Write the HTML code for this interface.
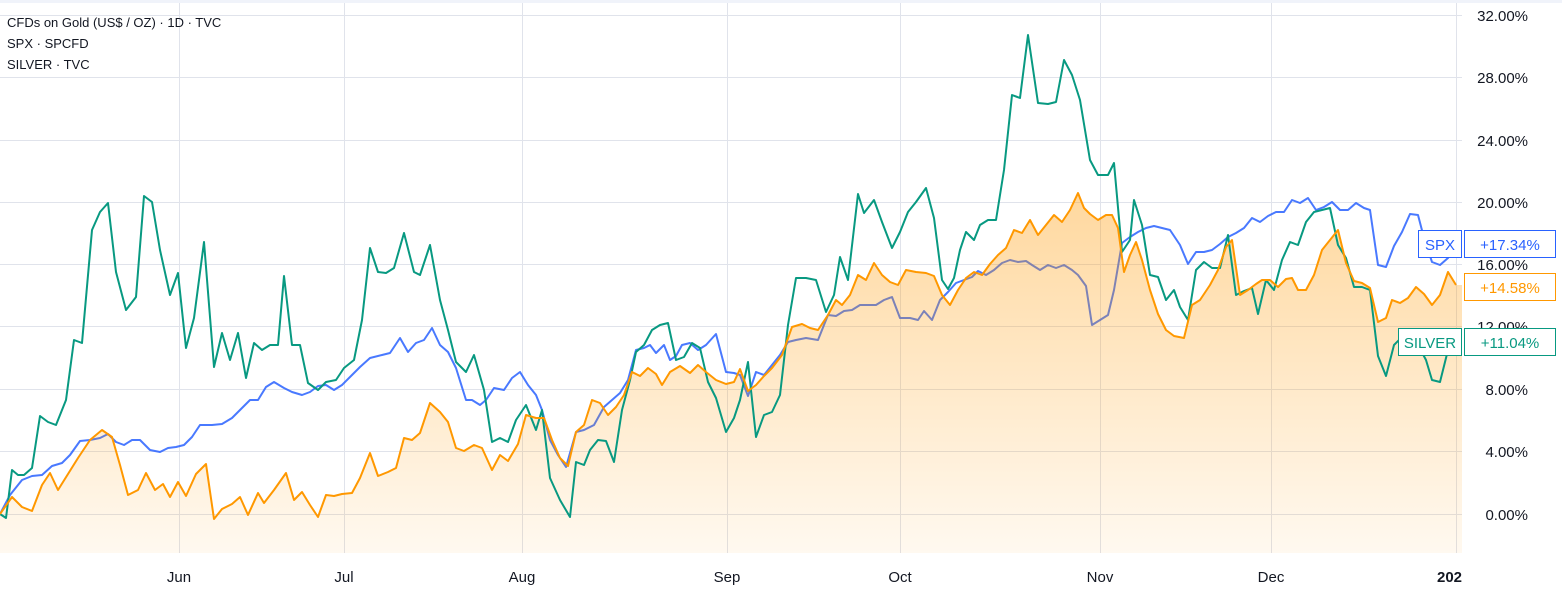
<!DOCTYPE html>
<html><head><meta charset="utf-8"><style>
html,body{margin:0;padding:0;background:#fff;}
svg{display:block;font-family:"Liberation Sans",sans-serif;}
</style></head><body>
<svg width="1562" height="596" viewBox="0 0 1562 596">
<defs>
<linearGradient id="g" x1="0" y1="0" x2="0" y2="1">
<stop offset="0" stop-color="#ff9800" stop-opacity="0.38"/>
<stop offset="1" stop-color="#ff9800" stop-opacity="0.06"/>
</linearGradient>
<clipPath id="c"><rect x="0" y="3" width="1462" height="550"/></clipPath>
</defs>
<rect x="0" y="0" width="1562" height="3" fill="#f0f3fa"/>
<g stroke="#e0e3eb" stroke-width="1">
<line x1="0" x2="1462" y1="15.5" y2="15.5"/><line x1="0" x2="1462" y1="77.5" y2="77.5"/>
<line x1="0" x2="1462" y1="140.5" y2="140.5"/><line x1="0" x2="1462" y1="202.5" y2="202.5"/>
<line x1="0" x2="1462" y1="264.5" y2="264.5"/><line x1="0" x2="1462" y1="326.5" y2="326.5"/>
<line x1="0" x2="1462" y1="389.5" y2="389.5"/><line x1="0" x2="1462" y1="451.5" y2="451.5"/>
<line x1="0" x2="1462" y1="514.5" y2="514.5"/>
<line x1="179.5" x2="179.5" y1="3" y2="553"/><line x1="344.5" x2="344.5" y1="3" y2="553"/>
<line x1="522.5" x2="522.5" y1="3" y2="553"/><line x1="727.5" x2="727.5" y1="3" y2="553"/>
<line x1="900.5" x2="900.5" y1="3" y2="553"/><line x1="1100.5" x2="1100.5" y1="3" y2="553"/>
<line x1="1271.5" x2="1271.5" y1="3" y2="553"/><line x1="1456.5" x2="1456.5" y1="3" y2="553"/>
</g>
<g clip-path="url(#c)" fill="none" stroke-width="2" stroke-linejoin="round">
<polyline stroke="#2962ff" stroke-opacity="0.85" points="0,514 10,495 22,480 32,476 42,475 52,466 62,463 70,455 80,441 90,440 100,438 108,434 116,442 124,445 132,440 140,440 150,450 160,452 168,448 176,447 184,445 192,437 200,425 212,425 222,424 232,418 240,410 250,400 258,400 266,387 274,382 284,388 292,392 302,395 310,392 318,386 326,385 334,390 342,385 352,375 360,367 370,358 382,355 390,353 400,338 408,352 416,343 424,340 432,328 440,345 448,352 456,368 466,400 472,400 480,405 486,400 494,388 504,390 512,378 520,372 528,385 536,395 542,410 550,440 558,455 566,467 576,432 584,430 594,425 604,407 612,400 620,393 628,380 636,350 644,348 650,345 656,353 664,345 670,360 676,356 682,345 690,343 698,350 706,345 716,334 726,372 734,373 740,375 748,396 756,372 764,375 772,365 780,355 788,342 796,340 806,338 818,340 828,315 836,316 844,311 852,310 860,305 868,305 876,305 884,300 892,297 900,318 910,318 918,320 924,311 932,320 940,300 948,292 956,283 964,280 972,277 978,271 986,275 994,270 1002,263 1010,260 1018,262 1026,261 1032,265 1040,270 1048,265 1056,268 1064,265 1072,270 1078,275 1086,286 1092,325 1100,320 1108,315 1114,290 1122,243 1130,237 1138,232 1146,228 1154,226 1162,228 1170,230 1180,245 1188,264 1196,252 1204,252 1212,250 1220,244 1228,237 1236,233 1244,228 1252,218 1260,222 1268,216 1276,212 1284,212 1292,200 1300,203 1308,198 1316,210 1324,207 1332,202 1340,210 1348,210 1356,203 1364,208 1370,210 1378,265 1386,267 1394,246 1402,232 1410,214 1418,215 1424,238 1432,262 1440,265 1448,258 1456,244"/>
<polygon stroke="none" fill="url(#g)" points="0,553 0,514 12,497 22,507 32,511 42,485 50,473 58,490 68,474 78,458 90,440 102,430 112,437 120,465 128,495 138,490 146,473 155,490 163,484 170,497 178,482 186,496 196,474 206,464 214,519 222,509 232,504 240,497 248,515 258,493 264,503 274,490 286,473 294,500 302,492 310,505 318,517 326,495 334,496 342,494 352,493 360,478 370,453 378,476 388,472 396,468 404,438 412,440 420,433 430,403 440,412 448,422 456,448 464,451 474,445 482,448 492,470 500,455 508,461 518,444 526,415 536,418 544,418 552,440 560,458 568,466 576,432 584,425 592,400 600,403 608,415 616,407 624,395 632,372 640,376 648,368 656,374 662,385 670,372 680,366 690,373 698,365 706,372 716,380 726,384 734,382 740,369 748,391 756,385 764,376 772,368 782,355 792,327 802,324 810,328 818,330 828,315 836,300 842,305 850,295 858,275 866,280 874,263 882,275 890,282 898,285 906,270 916,272 926,273 934,276 942,295 950,305 958,290 966,278 974,272 982,275 990,264 998,255 1006,248 1014,230 1022,233 1030,220 1038,235 1046,225 1054,215 1062,222 1070,210 1078,193 1084,208 1090,214 1098,220 1106,215 1112,215 1118,228 1124,272 1130,255 1136,242 1142,260 1150,290 1158,314 1166,330 1174,336 1184,338 1192,305 1200,300 1210,285 1218,270 1226,247 1232,240 1240,295 1248,290 1256,284 1262,280 1270,280 1278,287 1286,279 1292,278 1298,290 1306,290 1314,275 1322,250 1330,240 1338,230 1346,263 1354,281 1362,283 1370,288 1378,322 1386,318 1392,300 1400,303 1408,298 1416,287 1424,294 1432,305 1440,295 1448,272 1456,285 1462,285 1462,553"/>
<polyline stroke="#089981" points="0,514 6,518 12,470 18,475 24,475 32,468 40,416 48,422 56,425 66,400 74,340 82,343 92,230 100,212 108,203 116,272 126,310 136,297 144,196 152,202 160,250 170,295 178,273 186,348 194,318 204,242 214,367 222,333 230,360 238,333 246,378 254,343 262,350 270,345 278,345 284,276 292,345 300,345 308,383 318,390 326,382 336,380 344,368 354,360 362,320 370,248 378,272 386,273 394,268 404,233 414,272 420,275 430,245 440,300 448,330 456,362 466,372 474,355 484,390 492,442 500,438 508,442 516,420 526,405 536,430 542,410 550,478 560,500 570,517 576,462 584,465 590,450 598,440 606,441 614,462 622,410 630,380 636,352 644,345 652,330 660,325 668,323 676,360 684,357 692,343 700,348 708,382 716,398 726,432 734,418 740,400 748,362 756,437 764,415 772,412 780,395 788,325 796,278 806,278 816,280 826,312 834,295 840,257 848,280 858,194 864,213 874,200 882,222 892,248 900,232 908,212 916,202 926,188 934,218 942,280 948,289 954,278 960,250 966,232 974,240 980,225 988,220 996,220 1004,170 1012,95 1020,98 1028,35 1038,103 1048,104 1056,102 1064,60 1072,75 1080,100 1090,160 1098,175 1108,175 1114,163 1122,252 1130,240 1134,200 1142,225 1150,275 1158,277 1166,300 1174,290 1180,307 1188,320 1196,270 1204,262 1212,268 1220,268 1228,235 1236,295 1244,291 1252,288 1258,314 1266,280 1274,290 1282,260 1290,242 1298,245 1306,222 1314,212 1322,210 1330,208 1338,245 1346,258 1354,287 1362,287 1370,290 1378,356 1386,376 1394,345 1402,337 1410,336 1418,345 1426,360 1432,380 1440,382 1448,350 1456,342"/>
<polyline stroke="#ff9800" points="0,514 12,497 22,507 32,511 42,485 50,473 58,490 68,474 78,458 90,440 102,430 112,437 120,465 128,495 138,490 146,473 155,490 163,484 170,497 178,482 186,496 196,474 206,464 214,519 222,509 232,504 240,497 248,515 258,493 264,503 274,490 286,473 294,500 302,492 310,505 318,517 326,495 334,496 342,494 352,493 360,478 370,453 378,476 388,472 396,468 404,438 412,440 420,433 430,403 440,412 448,422 456,448 464,451 474,445 482,448 492,470 500,455 508,461 518,444 526,415 536,418 544,418 552,440 560,458 568,466 576,432 584,425 592,400 600,403 608,415 616,407 624,395 632,372 640,376 648,368 656,374 662,385 670,372 680,366 690,373 698,365 706,372 716,380 726,384 734,382 740,369 748,391 756,385 764,376 772,368 782,355 792,327 802,324 810,328 818,330 828,315 836,300 842,305 850,295 858,275 866,280 874,263 882,275 890,282 898,285 906,270 916,272 926,273 934,276 942,295 950,305 958,290 966,278 974,272 982,275 990,264 998,255 1006,248 1014,230 1022,233 1030,220 1038,235 1046,225 1054,215 1062,222 1070,210 1078,193 1084,208 1090,214 1098,220 1106,215 1112,215 1118,228 1124,272 1130,255 1136,242 1142,260 1150,290 1158,314 1166,330 1174,336 1184,338 1192,305 1200,300 1210,285 1218,270 1226,247 1232,240 1240,295 1248,290 1256,284 1262,280 1270,280 1278,287 1286,279 1292,278 1298,290 1306,290 1314,275 1322,250 1330,240 1338,230 1346,263 1354,281 1362,283 1370,288 1378,322 1386,318 1392,300 1400,303 1408,298 1416,287 1424,294 1432,305 1440,295 1448,272 1456,285"/>
</g>
<g font-size="15" fill="#131722" text-anchor="end">
<text x="1528" y="21">32.00%</text><text x="1528" y="83">28.00%</text>
<text x="1528" y="146">24.00%</text><text x="1528" y="208">20.00%</text>
<text x="1528" y="270">16.00%</text><text x="1528" y="332">12.00%</text>
<text x="1528" y="395">8.00%</text><text x="1528" y="457">4.00%</text>
<text x="1528" y="520">0.00%</text>
</g>
<g font-size="15" fill="#131722" text-anchor="middle">
<text x="179" y="582">Jun</text><text x="344" y="582">Jul</text><text x="522" y="582">Aug</text>
<text x="727" y="582">Sep</text><text x="900" y="582">Oct</text><text x="1100" y="582">Nov</text>
<text x="1271" y="582">Dec</text>
</g>
<text x="1437" y="582" font-size="15" font-weight="bold" fill="#131722">202</text>
<g font-size="13" fill="#131722">
<text x="7" y="27">CFDs on Gold (US$ / OZ) · 1D · TVC</text>
<text x="7" y="48">SPX · SPCFD</text>
<text x="7" y="69">SILVER · TVC</text>
</g>
<g font-size="15">
<rect x="1418.5" y="230.5" width="43" height="27" fill="#fff" stroke="#2962ff"/>
<text x="1440" y="250" text-anchor="middle" fill="#2962ff">SPX</text>
<rect x="1464.5" y="230.5" width="91" height="27" fill="#fff" stroke="#2962ff"/>
<text x="1510" y="250" text-anchor="middle" fill="#2962ff">+17.34%</text>
<rect x="1464.5" y="273.5" width="91" height="27" fill="#fff" stroke="#ff9800"/>
<text x="1510" y="293" text-anchor="middle" fill="#ff9800">+14.58%</text>
<rect x="1398.5" y="328.5" width="63" height="27" fill="#fff" stroke="#089981"/>
<text x="1430" y="348" text-anchor="middle" fill="#089981">SILVER</text>
<rect x="1464.5" y="328.5" width="91" height="27" fill="#fff" stroke="#089981"/>
<text x="1510" y="348" text-anchor="middle" fill="#089981">+11.04%</text>
</g>
</svg>
</body></html>
